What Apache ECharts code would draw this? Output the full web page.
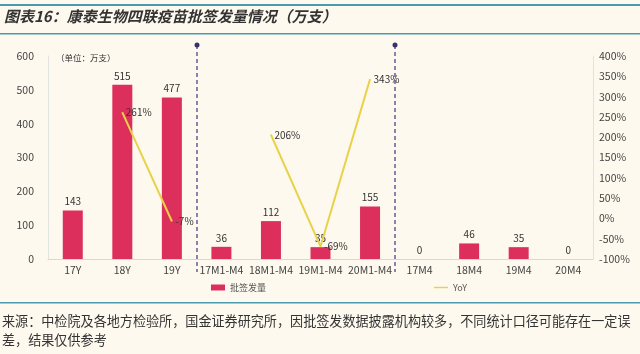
<!DOCTYPE html>
<html>
<head>
<meta charset="utf-8">
<script src="https://cdn.jsdelivr.net/npm/echarts@6/dist/echarts.min.js"></script>
<style>
html, body { margin: 0; padding: 0; background: #fdf9ef; }
#main { width: 640px; height: 354px; }
</style>
</head>
<body>
<div id="main"></div>
<script>
const categories = ['17Y', '18Y', '19Y', '17M1-M4', '18M1-M4', '19M1-M4', '20M1-M4', '17M4', '18M4', '19M4', '20M4']
const volumes = [143, 515, 477, 36, 112, 35, 155, 0, 46, 35, 0]
const yoy = [null, 261, -7, null, 206, -69, 343, null, null, null, null]
const dividers = [2, 6] // dashed line after these category indexes

const font = '"Noto Sans CJK SC", "Liberation Sans", sans-serif'
const chart = echarts.init(document.getElementById('main'))

chart.setOption({
    backgroundColor: '#fdf9ef',
    animation: false,
    textStyle: { fontFamily: font },
    grid: { left: 48, right: 47, top: 56, bottom: 95 },
    legend: {
        left: 206,
        bottom: 57,
        itemGap: 168,
        itemWidth: 14,
        itemHeight: 6,
        textStyle: { fontSize: 9, color: '#555' },
        data: [
            { name: '批签发量', icon: 'rect' },
            { name: 'YoY', icon: 'path://M0,0 L10,0 L10,1 L0,1 Z' }
        ]
    },
    xAxis: {
        type: 'category',
        data: categories,
        axisLine: { lineStyle: { color: '#d8d8d8' } },
        axisTick: { lineStyle: { color: '#d8d8d8' } },
        axisLabel: { color: '#444', fontSize: 10.5, interval: 0, margin: 6 }
    },
    yAxis: [{
        type: 'value',
        min: 0,
        max: 600,
        interval: 100,
        splitLine: { show: false },
        axisLine: { show: true, lineStyle: { color: '#e2e2e2' } },
        axisTick: { show: false },
        axisLabel: { color: '#444', fontSize: 10.5, margin: 14 }
    }, {
        type: 'value',
        min: -100,
        max: 400,
        interval: 50,
        splitLine: { show: false },
        axisLine: { show: true, lineStyle: { color: '#e2e2e2' } },
        axisTick: { show: false },
        axisLabel: { color: '#444', fontSize: 10.5, formatter: '{value}%', margin: 6 }
    }],
    series: [{
        name: '批签发量',
        type: 'bar',
        data: volumes,
        barWidth: 20,
        itemStyle: { color: '#dc2f5c' },
        label: { show: true, position: 'top', color: '#333', fontSize: 10, distance: 4 }
    }, {
        name: 'YoY',
        type: 'line',
        yAxisIndex: 1,
        data: yoy,
        symbol: 'circle',
        symbolSize: 1,
        showSymbol: true,
        lineStyle: { color: '#e8d24a', width: 2 },
        itemStyle: { color: '#e8d24a' },
        label: { show: true, position: 'right', distance: 3, color: '#333', fontSize: 10, formatter: '{c}%' }
    }]
})

// dashed dividers between the three groups, title and source
const graphics = []
dividers.forEach(i => {
    const a = chart.convertToPixel({ xAxisIndex: 0 }, categories[i])
    const b = chart.convertToPixel({ xAxisIndex: 0 }, categories[i + 1])
    const x = Math.round((a + b) / 2)
    graphics.push({
        type: 'line',
        shape: { x1: x, y1: 45, x2: x, y2: 272 },
        style: { stroke: '#6a5a9a', lineWidth: 1.5, lineDash: [4, 3] }
    })
    graphics.push({
        type: 'circle',
        shape: { cx: x, cy: 45, r: 2.5 },
        style: { fill: '#3c2f6a' }
    })
})

graphics.push(
    { type: 'rect', shape: { x: 0, y: 4, width: 640, height: 2 }, style: { fill: '#4a9bb0' } },
    { type: 'rect', shape: { x: 0, y: 33, width: 640, height: 1.5 }, style: { fill: '#4a9bb0' } },
    {
        type: 'text', left: 4, top: 9,
        style: { text: '图表16：康泰生物四联疫苗批签发量情况（万支）', font: 'italic bold 15px ' + font, fill: '#333' }
    },
    {
        type: 'text', left: 56, top: 54,
        style: { text: '（单位：万支）', font: '8.5px ' + font, fill: '#333' }
    },
    { type: 'rect', shape: { x: 0, y: 302, width: 640, height: 1.5 }, style: { fill: '#4a9bb0' } },
    {
        type: 'text', left: 2, top: 312,
        style: {
            text: '来源：中检院及各地方检验所，国金证券研究所，因批签发数据披露机构较多，不同统计口径可能存在一定误\n差，结果仅供参考',
            font: '13.1px ' + font, fill: '#333', lineHeight: 19
        }
    }
)
chart.setOption({ graphic: graphics })
</script>
</body>
</html>
